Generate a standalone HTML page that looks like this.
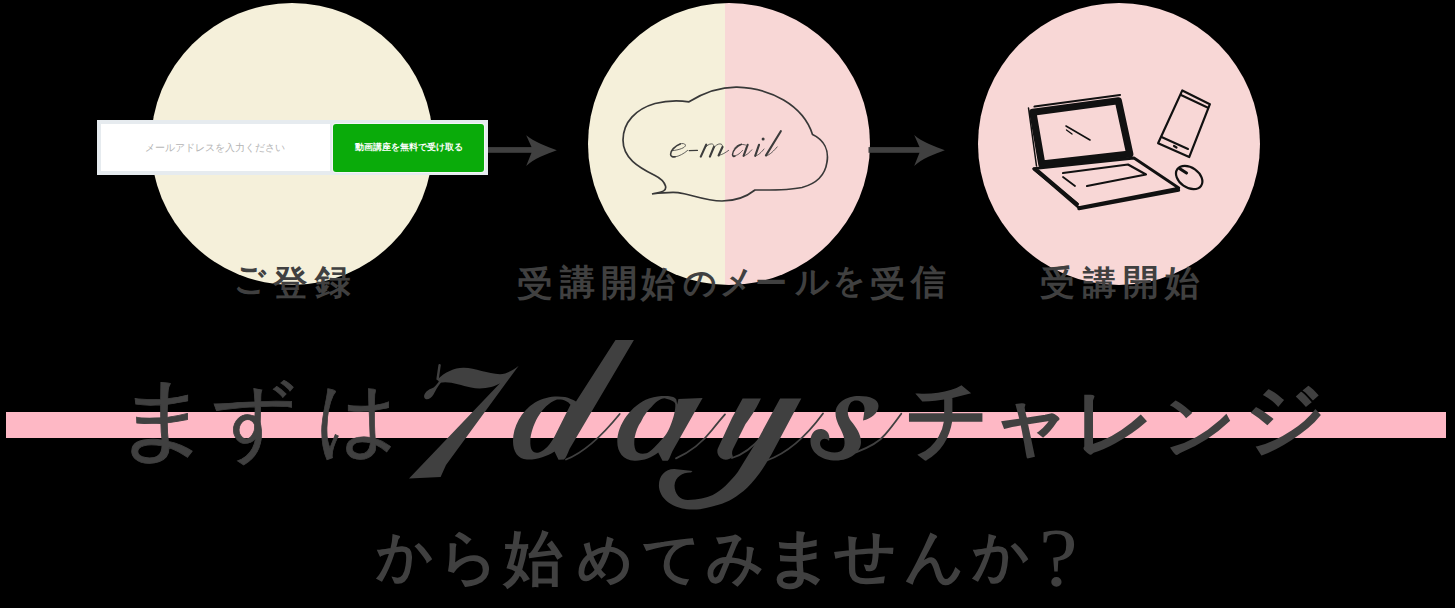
<!DOCTYPE html>
<html lang="ja">
<head>
<meta charset="utf-8">
<style>
html,body{margin:0;padding:0;}
body{width:1455px;height:608px;background:#000;position:relative;overflow:hidden;font-family:"Liberation Serif",serif;}
.abs{position:absolute;}
.circle{position:absolute;top:3px;width:282px;height:282px;border-radius:50%;}
.c1{left:150.8px;width:282.7px;background:#f5f0da;}
.c2{left:587.5px;background:linear-gradient(to right,#f5f0da 0,#f5f0da 137px,#f8d7d6 137px,#f8d7d6 100%);}
.c3{left:977.5px;background:#f8d7d6;}
.form{left:97px;top:120px;width:391px;height:55px;background:#e6ebef;}
.inp{left:101px;top:124px;width:229px;height:47px;background:#fff;}
.ph{left:100px;top:140.5px;width:229px;text-align:center;font-size:9.8px;line-height:14px;color:#b4b4b4;white-space:nowrap;}
.btn{left:333px;top:124px;width:151px;height:48px;background:#0aab0a;border-radius:3px;box-shadow:0 0 0 1px #f4f6f7;}
.btxt{left:333px;top:140px;width:151px;text-align:center;font-family:"Liberation Sans",sans-serif;font-weight:bold;font-size:8.6px;line-height:14px;color:#fff;white-space:nowrap;}
.bar{left:6px;top:412px;width:1440px;height:26px;background:#feb8c5;}
.g{position:absolute;transform-origin:0 0;white-space:nowrap;color:#404040;}
.lb{font-size:38px;line-height:38px;font-weight:bold;}
.bg{font-size:86px;line-height:86px;-webkit-text-stroke:0.8px #404040;}
.bb{-webkit-text-stroke:0;}
.bb{font-weight:bold;}
.bt{font-size:62px;line-height:62px;font-weight:bold;}
</style>
</head>
<body>
<div class="circle c1"></div>
<div class="circle c2"></div>
<div class="circle c3"></div>

<!-- arrows -->
<svg class="abs" style="left:0;top:0" width="1455" height="300" viewBox="0 0 1455 300">
  <rect x="486" y="147.1" width="47" height="5.7" fill="#404040"/>
  <path d="M556.8 150.2 C546.8 146.6 533.5 141.5 526.2 135.3 L531.5 147.1 L531.5 152.8 L526.2 165.9 C533.5 158.9 546.8 153.8 556.8 150.2Z" fill="#404040"/>
  <rect x="868.5" y="147.1" width="52" height="5.7" fill="#404040"/>
  <path d="M944.8 150.3 C934.8 146.7 921.5 141.5 914.2 135 L919.5 147.1 L919.5 152.8 L914.2 166 C921.5 159 934.8 153.9 944.8 150.3Z" fill="#404040"/>
</svg>

<!-- form -->
<div class="abs form"></div>
<div class="abs inp"></div>
<div class="abs ph">メールアドレスを入力ください</div>
<div class="abs btn"></div>
<div class="abs btxt">動画講座を無料で受け取る</div>

<!-- cloud -->
<svg class="abs" style="left:600px;top:70px" width="260" height="150" viewBox="600 70 260 150">
  <path d="M652 194 C660 192 667 192 665.5 186 C664 181 660 178 655 175.5 C638 167 623 158 623 140 C623 122 636 109 655 103.5 C667 100.5 679 100.5 689 101.8 C705 92 722 87 737 87.2 C770 88 803 105 812.5 134.5 C824 140 829 150 827 162 C825 176 815 184 802 187.5 C788 190.5 770 190 755 190 C745 198 735 201 722 201 C705 201 690 194 678 192.6 C668 192 660 193 652 194Z" fill="none" stroke="#383838" stroke-width="1.7"/>
  <g fill="none" stroke="#3c3c3c" stroke-linecap="round">
    <path d="M672.8 150.6 C677 150.2 683.5 148.6 685.2 146.2 C686.5 144 683 142.8 680.2 143.9 M675.2 156.8 C679 156.4 684 153.6 687.6 150.4 M704.6 148.6 C706.8 145.4 709.2 143.9 711.3 143.9 C713.2 143.9 714.2 145 713.9 147.2 M713.1 148.8 C715.3 145.5 717.8 143.9 719.9 143.9 C721.8 143.9 722.8 145 722.5 147.2 M719.2 155.2 C722 155 725.5 152.5 728.6 150.4 M734.5 148.2 C737 144.8 741 143.6 745.5 145 M733.5 155.5 C736 156.5 739.5 154 742.5 150.5 M744 155.8 C746.5 155.5 749.5 152.5 751.8 149.8 M755.5 155.8 C758.5 155.5 761.5 152 764 149 M766.2 155.8 C770 155 774 150.5 777.2 146.9" stroke-width="0.8"/>
    <path d="M680.2 143.9 C674.5 146 670.6 151 670.6 154.2 C670.6 156.4 672.6 157.1 675.2 156.8" stroke-width="1.6"/>
    <path d="M689.2 150.6 L697.4 150.4" stroke-width="1.3"/>
    <path d="M706.2 144.6 L700.8 156.6 M713.9 147 L709.9 156.6 M722.5 147 L718.6 155.5 M747.6 144.8 L743.6 155.8 M759 144.8 L755.2 155.8 M780.8 131.2 L766 155.4" stroke-width="2.1"/>
    <path d="M741.5 144.3 C736.5 146 732.5 151 732.5 154.5 C732.5 156.3 733.8 156.8 735 156.2" stroke-width="1.5"/>
  </g>
  <circle cx="763.1" cy="139" r="1.5" fill="#3c3c3c"/>
</svg>

<!-- devices -->
<svg class="abs" style="left:1000px;top:70px" width="240" height="160" viewBox="1000 70 240 160">
  <g fill="none" stroke="#111" stroke-linecap="round" stroke-linejoin="round">
    <path d="M1032.8 112.2 L1118.3 100.8 L1129.8 154 L1041.8 164.2Z" stroke-width="7.2"/>
    <path d="M1034.5 106.5 L1120 95" stroke-width="2.2"/>
    <path d="M1028.5 108 L1036.5 166" stroke-width="1.5"/>
    <path d="M1066 126 L1090 140" stroke-width="1.6"/>
    <path d="M1066.5 130 L1072 134" stroke-width="1.3"/>
    <path d="M1033.8 168.6 L1134 158 L1178.8 188 L1078.7 207.5Z" stroke-width="2.8"/>
    <path d="M1038 170 L1078 204" stroke-width="2"/>
    <path d="M1079 208.6 L1178.5 190.2" stroke-width="3.4"/>
    <path d="M1034 169 L1077 204" stroke-width="3"/>
    <path d="M1063 173 L1128 164.5 L1146 174.5 L1087 186" stroke-width="2.2"/>
    <path d="M1063 177 L1075 186" stroke-width="1.8"/>
    <path d="M1182.3 90.4 L1209.9 104.2 L1189.2 157.1 L1158.1 143.3Z" stroke-width="2.2"/>
    <path d="M1181 95 L1207.5 107.5" stroke-width="2"/>
    <path d="M1161.5 137 L1188 149" stroke-width="2"/>
    <path d="M1174 146 L1176.5 147.5" stroke-width="2.2"/>
    <ellipse cx="1189.2" cy="177.5" rx="14.5" ry="10" transform="rotate(35 1189.2 177.5)" stroke-width="2.2"/>
    <path d="M1179.5 168.5 L1186.5 173" stroke-width="3.2"/>
    <path d="M1035 137 L1040 139" stroke-width="0"/>
  </g>
</svg>

<!-- labels -->
<div class="g lb" style="left:233.80px;top:262.09px;transform:scale(0.8210,0.9196)">ご</div>
<div class="g lb" style="left:273.03px;top:265.54px;transform:scale(0.9012,0.9194)">登</div>
<div class="g lb" style="left:314.65px;top:265.27px;transform:scale(0.9218,0.9090)">録</div>
<div class="g lb" style="left:517.03px;top:266.08px;transform:scale(0.9471,0.9227)">受</div>
<div class="g lb" style="left:560.01px;top:265.30px;transform:scale(0.9129,0.9131)">講</div>
<div class="g lb" style="left:600.62px;top:263.75px;transform:scale(0.9664,0.9563)">開</div>
<div class="g lb" style="left:641.47px;top:265.60px;transform:scale(0.9041,0.9282)">始</div>
<div class="g lb" style="left:683.02px;top:265.62px;transform:scale(0.8804,0.8801)">の</div>
<div class="g lb" style="left:720.26px;top:265.18px;transform:scale(0.8463,0.9089)">メ</div>
<div class="g lb" style="left:755.45px;top:267.48px;transform:scale(0.8370,0.8346)">ー</div>
<div class="g lb" style="left:794.52px;top:266.09px;transform:scale(0.8811,0.8591)">ル</div>
<div class="g lb" style="left:832.66px;top:264.40px;transform:scale(0.8304,0.8617)">を</div>
<div class="g lb" style="left:869.50px;top:265.80px;transform:scale(0.9351,0.9243)">受</div>
<div class="g lb" style="left:911.36px;top:265.03px;transform:scale(0.9131,0.9188)">信</div>
<div class="g lb" style="left:1040.49px;top:266.01px;transform:scale(0.9196,0.9209)">受</div>
<div class="g lb" style="left:1082.93px;top:265.96px;transform:scale(0.8851,0.8810)">講</div>
<div class="g lb" style="left:1123.21px;top:264.31px;transform:scale(0.9453,0.9276)">開</div>
<div class="g lb" style="left:1164.96px;top:265.93px;transform:scale(0.8969,0.9115)">始</div>

<!-- bar -->
<div class="abs bar"></div>

<!-- big title -->
<div class="g bg" style="left:112.77px;top:373.97px;transform:scale(1.1615,1.0575)">ま</div>
<div class="g bg" style="left:211.49px;top:378.55px;transform:scale(0.9899,0.9582)">ず</div>
<div class="g bg" style="left:315.90px;top:377.75px;transform:scale(0.9338,0.9615)">は</div>
<div class="g bg bb" style="left:905.94px;top:377.33px;transform:scale(0.9454,1.0058)">チ</div>
<div class="g bg bb" style="left:991.01px;top:384.16px;transform:scale(0.9246,0.8950)">ャ</div>
<div class="g bg bb" style="left:1073.22px;top:382.55px;transform:scale(0.9490,0.9110)">レ</div>
<div class="g bg bb" style="left:1162.99px;top:389.87px;transform:scale(0.8362,0.8159)">ン</div>
<div class="g bg bb" style="left:1244.14px;top:377.75px;transform:scale(0.9383,0.9484)">ジ</div>
<svg class="abs" style="left:0;top:0" width="1455" height="608" viewBox="0 0 1455 608">
  <g fill="#404040">
    <!-- 7 -->
    <path d="M437.4 379.6 C445 372 455 367.5 464 367.8 C475 368 488 374 500 374.2 C507 374 513 370 518.7 365.7 L446 465 L440.6 477 L409 478.4 L500 383.2 C494 387 482 390 471 387.5 C460 385 449 380.5 439.6 382.8 Z"/>
    <path d="M440 380 C437 384.5 434.5 387.5 431.5 388.5 C426 390.5 423 395 424.5 398 C426.5 401 431 398.5 433.5 394.5 C435.5 390.5 438 386 441 382.5 Z"/>
    <!-- d -->
    <path fill-rule="evenodd" d="M615.5 340.1 L633.9 340.1 L569.5 449 C567.5 454 566 458 564 459.5 L558.5 459.8 L554.5 451.5 C547 456.5 536 460 527 459.5 C518 459 513 452 513 441 C513 427 521 411 535 402.5 C545 396.5 556 395.5 565 397 C569 398 572.5 399.5 576 401.5 Z M557 399.5 C563 399 568 401 570.5 404.8 L554.3 437 C550.5 444 545 450.5 539 452.5 C533 454 530 450 530.3 441 C531 427 541 405 557 399.5 Z"/>
    <!-- a -->
    <path fill-rule="evenodd" d="M678.4 399.1 L702.6 397.9 L672.4 451.2 C670.5 455.5 669.5 459 667.7 460.7 L662.5 460.8 L658.2 452.5 C652 457.5 643 461 634.5 460.7 C623 460.3 617.3 452 617.3 441.8 C617.3 425 631 405 649 398.5 C657 396 663.5 395.8 668 396.1 C672 396.4 675 397.5 676.3 399.5 L677.2 404.5 Z M664.6 398.2 C669 399.5 675 401 675.3 404 C675.8 410 673 420 669.9 427.1 C667 434 663.5 438 660.3 441 C655 447 650 452 646.4 453.3 C641 454.5 637 453 635.7 450.6 C634 447 634 442 634.6 437.8 C636 431 638 426 641 421.7 C644 415 648 410 651.7 406.8 C655 402.5 660 398.5 664.6 398.2 Z"/>
    <!-- y -->
    <path d="M742.6 398.5 L760.9 398.5 C755 411 750 418 745.5 424 L733 449 C731.5 452 732 455 733 456.5 C731 459 727 460 724 459.5 C719 458 716.5 454 717.6 449 L732 418.1 Z"/>
    <path d="M780.1 398.5 L801.3 398.5 L774.4 448.9 C765 467 755 480 747.4 487.4 C737 497 728 502 718.5 504.7 C710 507 702 509.6 693.5 509.6 C672 509.6 659 498 658.9 485.5 C659 476 665 469 674.3 469.1 L692.5 471 L691 472.5 C684 472 675 476 674.5 485.5 C674.5 494 680 500 688 500 C698 500 706 498 712.8 495.1 C722 490 730 482 737.8 472 L759 437.4 Z"/>
    <!-- s -->
    <path d="M863 420.5 C871 419 878.5 413 878.5 406 C878.5 399 870 396 859 396 C846 396 835.5 403 835.5 413 C835.5 422 841 428 843.5 436 C845.5 443 845 449 840 451.5 C835 453.5 827 452 823 449 C819.5 446.5 819 441.5 822 439.5 C824.5 438 827.5 439 829 441 C830.5 436 828 429.5 821.5 429 C814 428.5 810 435 810.5 442 C811 453 822 460.5 836 460.5 C850 460.5 861 452 861 442 C861 434 856 427 851 421 C848 417 847 412 848.5 407 C850 402 853 400 857 400.5 C862 401 865 405 864.5 410 C864 414 863.5 417 863 420.5 Z"/>
  </g>
  <g fill="none" stroke="#404040" stroke-linecap="round">
    <path d="M439.6 365.2 L437.6 379" stroke-width="2.4"/>
    <path d="M566 459.5 C583 453 601 437 619.7 414" stroke-width="1.8"/>
    <path d="M676 458.4 C690 452 702 443 712 430 C716 425 720 420 725 414.4" stroke-width="1.8"/>
    <path d="M732 458 C742 455 754 446 762.8 435.4" stroke-width="1.8"/>
    <path d="M766.7 460.5 C785 454 805 438 823 413.5" stroke-width="1.8"/>
    <path d="M855.9 452.4 C870 447 880 441 885 434.6 C891 428 896 421 901.3 413.7" stroke-width="1.8"/>
  </g>
</svg>

<div class="g bt" style="left:376.48px;top:527.02px;transform:scale(0.9037,0.9241)">か</div>
<div class="g bt" style="left:439.21px;top:525.84px;transform:scale(0.9496,0.9911)">ら</div>
<div class="g bt" style="left:504.32px;top:528.81px;transform:scale(0.9477,0.9653)">始</div>
<div class="g bt" style="left:576.64px;top:531.89px;transform:scale(0.8803,0.8789)">め</div>
<div class="g bt" style="left:641.77px;top:530.92px;transform:scale(0.9380,0.9023)">て</div>
<div class="g bt" style="left:706.08px;top:527.26px;transform:scale(0.9137,0.9775)">み</div>
<div class="g bt" style="left:764.61px;top:525.68px;transform:scale(1.0932,1.0156)">ま</div>
<div class="g bt" style="left:833.96px;top:526.26px;transform:scale(0.9768,0.9601)">せ</div>
<div class="g bt" style="left:904.28px;top:526.81px;transform:scale(0.9580,0.9654)">ん</div>
<div class="g bt" style="left:971.83px;top:526.96px;transform:scale(0.9085,0.9258)">か</div>
<div class="g bt" style="left:1038.59px;top:515.80px;transform:scale(1.4043,1.3339);font-weight:normal">?</div>
</body>
</html>
